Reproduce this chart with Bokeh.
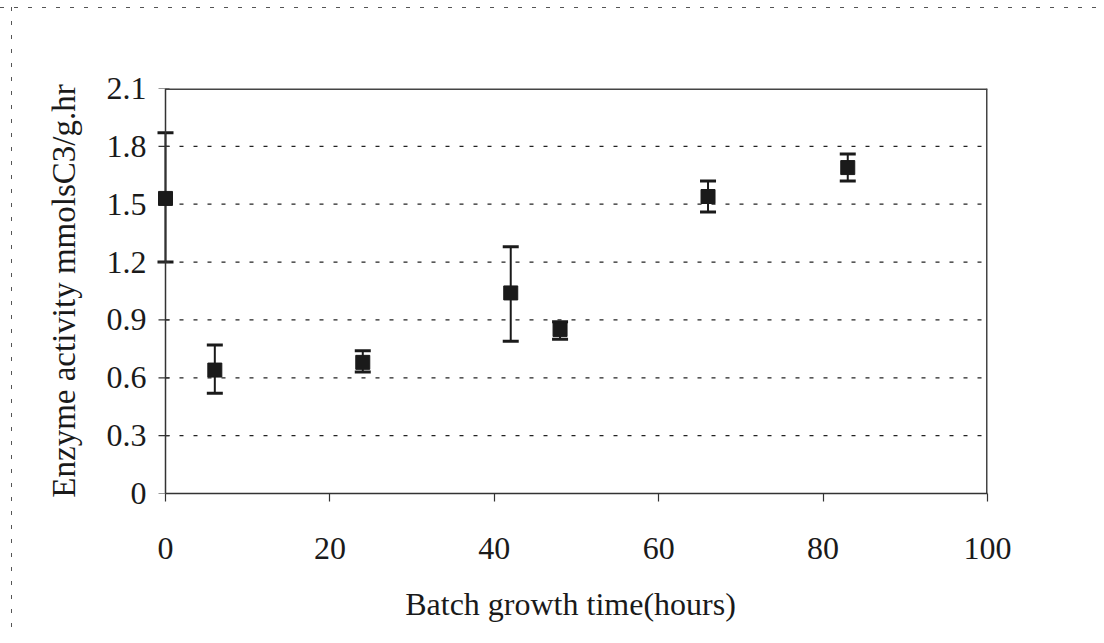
from bokeh.plotting import figure
from bokeh.models import ColumnDataSource, Whisker, FixedTicker
from bokeh.embed import file_html
from bokeh.resources import INLINE

# Data
time_hours = [0, 6, 24, 42, 48, 66, 83]
activity = [1.53, 0.64, 0.68, 1.04, 0.85, 1.54, 1.69]
err_upper = [1.87, 0.77, 0.74, 1.28, 0.89, 1.62, 1.76]
err_lower = [1.20, 0.52, 0.63, 0.79, 0.80, 1.46, 1.62]

x_ticks = [0, 20, 40, 60, 80, 100]
x_tick_labels = ["0", "20", "40", "60", "80", "100"]
y_ticks = [0, 0.3, 0.6, 0.9, 1.2, 1.5, 1.8, 2.1]
y_tick_labels = ["0", "0.3", "0.6", "0.9", "1.2", "1.5", "1.8", "2.1"]

x_title = "Batch growth time(hours)"
y_title = "Enzyme activity mmolsC3/g.hr"

FONT = "Liberation Serif"
INK = "#1a1a1a"
LINE = "#333"

X_MIN, X_MAX = 0, 100
Y_MIN, Y_MAX = 0, 2.1

# layout (pixels)
AXIS_PX = 165          # pixel position of x=0
PLOT_W = 822           # pixels from x=0 to x=100
PAD_PX = 12            # extra frame room left of x=0 so the first point is not clipped
FRAME_TOP = 88
FRAME_H = 405
RIGHT = 109
BOTTOM = 142
TICK_OUT_PX = 7
TICK_IN_PX = 4

px_to_x = (X_MAX - X_MIN) / PLOT_W
x_start = X_MIN - PAD_PX * px_to_x

src = ColumnDataSource(dict(x=time_hours, y=activity, upper=err_upper, lower=err_lower))

p = figure(
    width=AXIS_PX + PLOT_W + RIGHT,
    height=FRAME_TOP + FRAME_H + BOTTOM,
    x_range=(x_start, X_MAX), y_range=(Y_MIN, Y_MAX),
    output_backend="svg", toolbar_location=None,
    min_border_left=AXIS_PX - PAD_PX, min_border_right=RIGHT,
    min_border_top=FRAME_TOP, min_border_bottom=BOTTOM,
    background_fill_color="white", border_fill_color=None,
)
p.styles = {
    "background-image": (
        "repeating-linear-gradient(90deg, #555 0px, #555 4px, transparent 4px, transparent 14px),"
        "repeating-linear-gradient(180deg, #555 0px, #555 4px, transparent 4px, transparent 14px)"
    ),
    "background-size": "100% 1px, 1px 100%",
    "background-repeat": "no-repeat",
    "background-position": "0px 7px, 11px 7px",
}

p.outline_line_color = None
p.xgrid.visible = False
p.ygrid.visible = False

# dotted horizontal grid lines from the y axis to the right border
grid_y = y_ticks[1:-1]
p.segment(x0=[X_MIN] * len(grid_y), x1=[X_MAX] * len(grid_y), y0=grid_y, y1=grid_y,
          line_color="#222", line_dash="4 10", line_width=1.2)

# top and right border of the plot area
p.segment(x0=[X_MIN, X_MAX], x1=[X_MAX, X_MAX], y0=[Y_MAX, Y_MIN], y1=[Y_MAX, Y_MAX],
          line_color="#444", line_width=3)

# y axis line and its crossing tick marks at x = 0
p.segment(x0=[X_MIN], x1=[X_MIN], y0=[Y_MIN], y1=[Y_MAX], line_color=LINE, line_width=1.5)
p.segment(x0=[X_MIN - TICK_OUT_PX * px_to_x] * len(y_ticks),
          x1=[X_MIN + TICK_IN_PX * px_to_x] * len(y_ticks),
          y0=y_ticks, y1=y_ticks, line_color=LINE, line_width=1.2)

# x axis
p.xaxis.ticker = FixedTicker(ticks=x_ticks)
p.xaxis.major_label_overrides = dict(zip(x_ticks, x_tick_labels))
p.xaxis.bounds = (X_MIN, X_MAX)
p.xaxis.minor_tick_line_color = None
p.xaxis.major_tick_in = 0
p.xaxis.major_tick_out = 8
p.xaxis.major_label_standoff = 36
p.xaxis.axis_label = x_title
p.xaxis.axis_label_standoff = 24
p.xaxis.axis_line_color = LINE
p.xaxis.axis_line_width = 1.5
p.xaxis.major_tick_line_color = LINE
p.xaxis.major_tick_line_width = 1.2

# y axis: labels only (line and ticks are drawn at x = 0 above)
p.yaxis.ticker = FixedTicker(ticks=y_ticks)
p.yaxis.major_label_overrides = dict(zip(y_ticks, y_tick_labels))
p.yaxis.axis_line_color = None
p.yaxis.major_tick_line_color = None
p.yaxis.minor_tick_line_color = None
p.yaxis.major_tick_in = 0
p.yaxis.major_tick_out = 0
p.yaxis.minor_tick_out = 0
p.yaxis.major_label_standoff = 7
p.yaxis.axis_label = y_title
p.yaxis.axis_label_standoff = 22

for ax in (p.xaxis[0], p.yaxis[0]):
    ax.major_label_text_font = FONT
    ax.major_label_text_font_size = "32px"
    ax.major_label_text_color = INK
    ax.axis_label_text_font = FONT
    ax.axis_label_text_font_style = "normal"
    ax.axis_label_text_color = INK

p.xaxis.axis_label_text_font_size = "32px"
p.yaxis.axis_label_text_font_size = "33px"

# error bars
w = Whisker(source=src, base="x", upper="upper", lower="lower", dimension="height",
            line_color=INK, line_width=2)
for head in (w.upper_head, w.lower_head):
    head.size = 16
    head.line_width = 3
    head.line_color = INK
p.add_layout(w)

p.scatter("x", "y", source=src, marker="square", size=14,
          fill_color=INK, line_color=INK)

open("out.html", "w").write(file_html(p, INLINE))
